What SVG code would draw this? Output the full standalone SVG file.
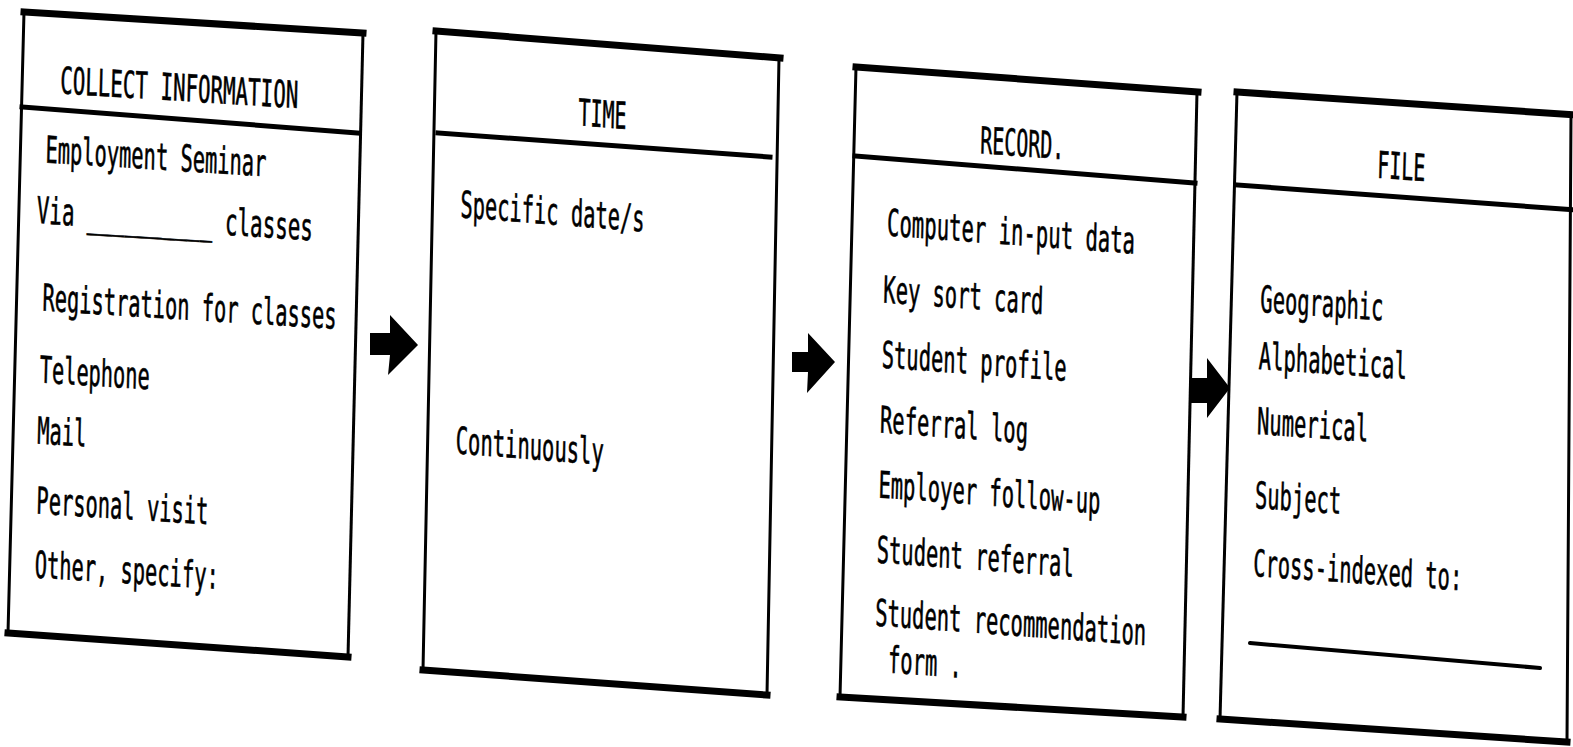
<svg xmlns="http://www.w3.org/2000/svg" width="1573" height="747" viewBox="0 0 1573 747">
<style>
.bg{fill:#ffffff}
.side{stroke:#000;stroke-width:3;fill:none;stroke-linecap:square}
.thick{stroke:#000;stroke-width:7;fill:none;stroke-linecap:square}
.div{stroke:#000;stroke-width:5;fill:none;stroke-linecap:square}
.t{font-family:"DejaVu Sans Mono","Liberation Mono",monospace;font-size:37px;fill:#000;stroke:#000;stroke-width:0.6}
.arrow{fill:#000;stroke:none}
</style>
<rect class="bg" x="0" y="0" width="1573" height="747"/>

<g id="node-collect">
  <line class="side" x1="24" y1="12" x2="8" y2="633"/>
  <line class="side" x1="363" y1="33" x2="348" y2="657"/>
  <line class="thick" x1="24" y1="12" x2="363" y2="33"/>
  <line class="div" x1="22" y1="107" x2="358" y2="133"/>
  <line class="thick" x1="8" y1="633" x2="348" y2="657"/>
  <g transform="matrix(1,0.062,-0.0258,1,24,12)">
    <text class="t" x="38" y="79" textLength="238" lengthAdjust="spacingAndGlyphs">COLLECT INFORMATION</text>
    <text class="t" x="25" y="149" textLength="221" lengthAdjust="spacingAndGlyphs">Employment Seminar</text>
    <text class="t" x="18" y="210" textLength="276" lengthAdjust="spacingAndGlyphs">Via __________ classes</text>
    <text class="t" x="26" y="297" textLength="294" lengthAdjust="spacingAndGlyphs">Registration for classes</text>
    <text class="t" x="25" y="369" textLength="110" lengthAdjust="spacingAndGlyphs">Telephone</text>
    <text class="t" x="24" y="430" textLength="49" lengthAdjust="spacingAndGlyphs">Mail</text>
    <text class="t" x="25" y="500" textLength="172" lengthAdjust="spacingAndGlyphs">Personal visit</text>
    <text class="t" x="25" y="564" textLength="184" lengthAdjust="spacingAndGlyphs">Other, specify:</text>
  </g>
</g>

<g id="node-time">
  <line class="side" x1="436" y1="31" x2="423" y2="670"/>
  <line class="side" x1="779" y1="58" x2="767" y2="695"/>
  <line class="thick" x1="436" y1="31" x2="780" y2="58"/>
  <line class="div" x1="438" y1="133" x2="770" y2="157"/>
  <line class="thick" x1="423" y1="670" x2="767" y2="695"/>
  <g transform="matrix(1,0.0785,-0.0203,1,436,31)">
    <text class="t" x="144" y="83" textLength="48" lengthAdjust="spacingAndGlyphs">TIME</text>
    <text class="t" x="28" y="184" textLength="184" lengthAdjust="spacingAndGlyphs">Specific date/s</text>
    <text class="t" x="28" y="420" textLength="148" lengthAdjust="spacingAndGlyphs">Continuously</text>
  </g>
</g>

<g id="node-record">
  <line class="side" x1="856" y1="67" x2="840" y2="697"/>
  <line class="side" x1="1197" y1="92" x2="1183" y2="717"/>
  <line class="thick" x1="856" y1="67" x2="1198" y2="92"/>
  <line class="div" x1="855" y1="156" x2="1195" y2="183"/>
  <line class="thick" x1="840" y1="697" x2="1183" y2="717"/>
  <g transform="matrix(1,0.073,-0.0254,1,856,67)">
    <text class="t" x="126" y="77" textLength="84" lengthAdjust="spacingAndGlyphs">RECORD.</text>
    <text class="t" x="35" y="166" textLength="248" lengthAdjust="spacingAndGlyphs">Computer in-put data</text>
    <text class="t" x="33" y="233" textLength="160" lengthAdjust="spacingAndGlyphs">Key sort card</text>
    <text class="t" x="33" y="298" textLength="185" lengthAdjust="spacingAndGlyphs">Student profile</text>
    <text class="t" x="33" y="363" textLength="148" lengthAdjust="spacingAndGlyphs">Referral log</text>
    <text class="t" x="33" y="428" textLength="222" lengthAdjust="spacingAndGlyphs">Employer follow-up</text>
    <text class="t" x="33" y="493" textLength="197" lengthAdjust="spacingAndGlyphs">Student referral</text>
    <text class="t" x="33" y="556" textLength="271" lengthAdjust="spacingAndGlyphs">Student recommendation</text>
    <text class="t" x="47" y="602" textLength="74" lengthAdjust="spacingAndGlyphs">form .</text>
  </g>
</g>

<g id="node-file">
  <line class="side" x1="1237" y1="92" x2="1220" y2="719"/>
  <line class="side" x1="1571" y1="116" x2="1567" y2="742"/>
  <line class="thick" x1="1237" y1="92" x2="1576" y2="115"/>
  <line class="div" x1="1237" y1="185" x2="1576" y2="210"/>
  <line class="thick" x1="1220" y1="719" x2="1567" y2="742"/>
  <line stroke="#000" stroke-width="4" stroke-linecap="round" x1="1250" y1="643" x2="1540" y2="668"/>
  <g transform="matrix(1,0.0687,-0.0271,1,1237,92)">
    <text class="t" x="142" y="76" textLength="48" lengthAdjust="spacingAndGlyphs">FILE</text>
    <text class="t" x="29" y="218" textLength="123" lengthAdjust="spacingAndGlyphs">Geographic</text>
    <text class="t" x="29" y="275" textLength="148" lengthAdjust="spacingAndGlyphs">Alphabetical</text>
    <text class="t" x="29" y="340" textLength="111" lengthAdjust="spacingAndGlyphs">Numerical</text>
    <text class="t" x="29" y="414" textLength="86" lengthAdjust="spacingAndGlyphs">Subject</text>
    <text class="t" x="29" y="482" textLength="209" lengthAdjust="spacingAndGlyphs">Cross-indexed to:</text>
  </g>
</g>

<g id="connectors">
  <polygon class="arrow" points="370,333 390,333 390,315 418,345 388,375 390,355 370,355"/>
  <polygon class="arrow" points="792,352 808,352 808,333 835,362 807,393 808,372 792,372"/>
  <polygon class="arrow" points="1190,378 1207,378 1207,358 1230,388 1207,418 1207,403 1190,403"/>
</g>
</svg>
